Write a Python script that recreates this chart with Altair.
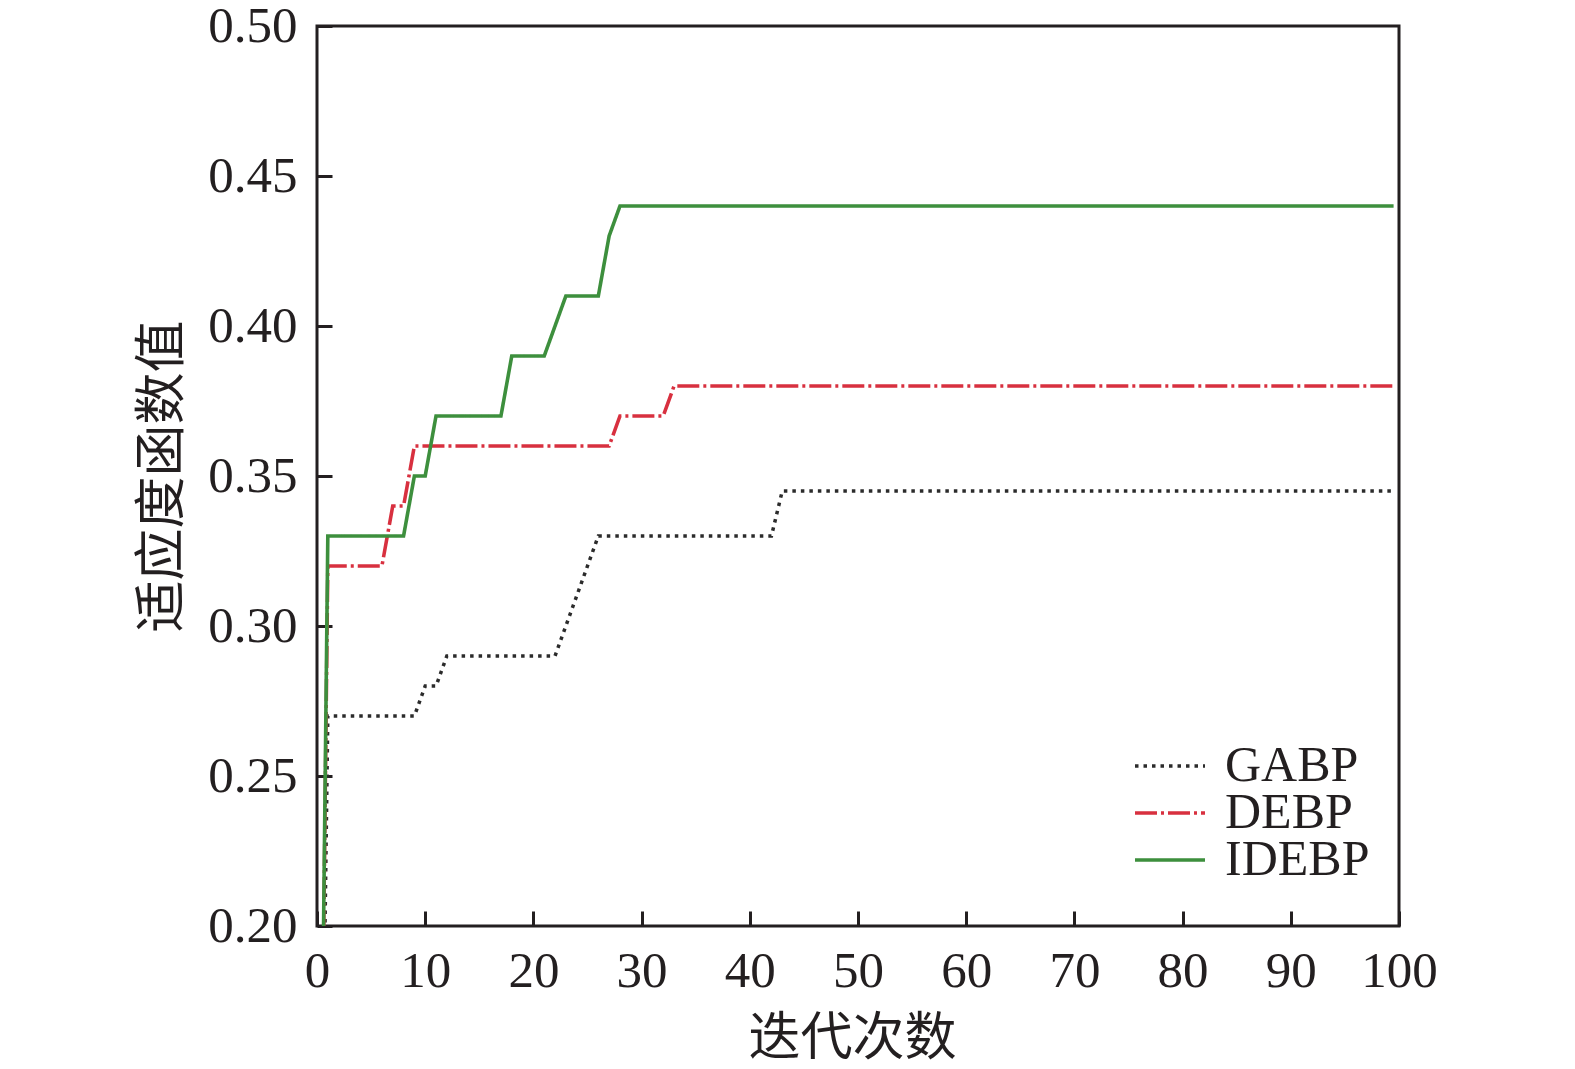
import altair as alt
import pandas as pd

# ---- data ----
series_names = ["GABP", "DEBP", "IDEBP"]
series_colors = ["#2b2b2b", "#d8303f", "#3d8f3d"]

gabp_x = [0, 1, 9, 10, 11, 12, 22, 26, 42, 43, 99.5]
gabp_y = [0.0, 0.27, 0.27, 0.28, 0.28, 0.29, 0.29, 0.33, 0.33, 0.345, 0.345]

debp_x = [0, 1, 6, 7, 8, 9, 27, 28, 32, 33, 99.5]
debp_y = [0.0, 0.32, 0.32, 0.34, 0.34, 0.36, 0.36, 0.37, 0.37, 0.38, 0.38]

idebp_x = [0, 1, 8, 9, 10, 11, 17, 18, 21, 23, 26, 27, 28, 99.5]
idebp_y = [0.0, 0.33, 0.33, 0.35, 0.35, 0.37, 0.37, 0.39, 0.39, 0.41, 0.41, 0.43, 0.44, 0.44]

x_ticks = [0, 10, 20, 30, 40, 50, 60, 70, 80, 90, 100]
y_ticks = [0.20, 0.25, 0.30, 0.35, 0.40, 0.45, 0.50]

rows = []
for name, xs, ys in [("GABP", gabp_x, gabp_y), ("DEBP", debp_x, debp_y), ("IDEBP", idebp_x, idebp_y)]:
    for i, (xv, yv) in enumerate(zip(xs, ys)):
        rows.append({"series": name, "iter": xv, "fit": yv, "order": i})
df = pd.DataFrame(rows)

W, H = 1082, 900
SERIF = "Liberation Serif"
CJK = "Noto Sans CJK SC"
INK = "#231f20"

chart = alt.Chart(df).mark_line(clip=True, strokeCap="butt", strokeJoin="miter").encode(
    x=alt.X("iter:Q",
            scale=alt.Scale(domain=[0, 100], nice=False, zero=False),
            axis=alt.Axis(values=x_ticks, format="d", offset=-15, tickSize=15, tickWidth=3,
                          tickColor=INK, domain=False, grid=False,
                          labelFont=SERIF, labelFontSize=51, labelColor=INK,
                          labelPadding=20, labelFlush=False,
                          title="迭代次数", titleFont=CJK, titleFontSize=52,
                          titleFontWeight="normal", titleColor=INK,
                          titleX=535, titleY=127, titleAlign="center",
                          titleBaseline="middle")),
    y=alt.Y("fit:Q",
            scale=alt.Scale(domain=[0.2, 0.5], nice=False, zero=False),
            axis=alt.Axis(values=y_ticks, format=".2f", offset=-15, tickSize=15, tickWidth=3,
                          tickColor=INK, domain=False, grid=False,
                          labelFont=SERIF, labelFontSize=51, labelColor=INK,
                          labelPadding=20, labelFlush=False,
                          title="适应度函数值", titleFont=CJK, titleFontSize=52,
                          titleFontWeight="normal", titleColor=INK,
                          titleX=-170, titleY=450, titleAlign="center",
                          titleBaseline="middle", titleAngle=-90)),
    color=alt.Color("series:N",
                    scale=alt.Scale(domain=series_names, range=series_colors),
                    legend=alt.Legend(title=None, orient="none", legendX=816, legendY=720,
                                      symbolType="stroke", symbolSize=4900,
                                      symbolStrokeWidth=4, labelFont=SERIF,
                                      labelFontSize=50, labelColor=INK,
                                      labelOffset=18, rowPadding=-3, clipHeight=40)),
    strokeDash=alt.StrokeDash("series:N",
                              scale=alt.Scale(domain=series_names,
                                              range=[[3.5, 5], [22, 4, 3, 4], [1, 0]]),
                              legend=None),
    strokeWidth=alt.StrokeWidth("series:N",
                                scale=alt.Scale(domain=series_names, range=[3.5, 3.6, 4.2]),
                                legend=None),
    order="order:Q",
).properties(
    width=W, height=H,
    background="white",
    autosize=alt.AutoSizeParams(type="none"),
    padding={"left": 309, "top": 18, "right": 150, "bottom": 143},
).configure_view(
    stroke=INK, strokeWidth=3
)

chart.save("out.html", embed_options={"renderer": "svg", "actions": False})
